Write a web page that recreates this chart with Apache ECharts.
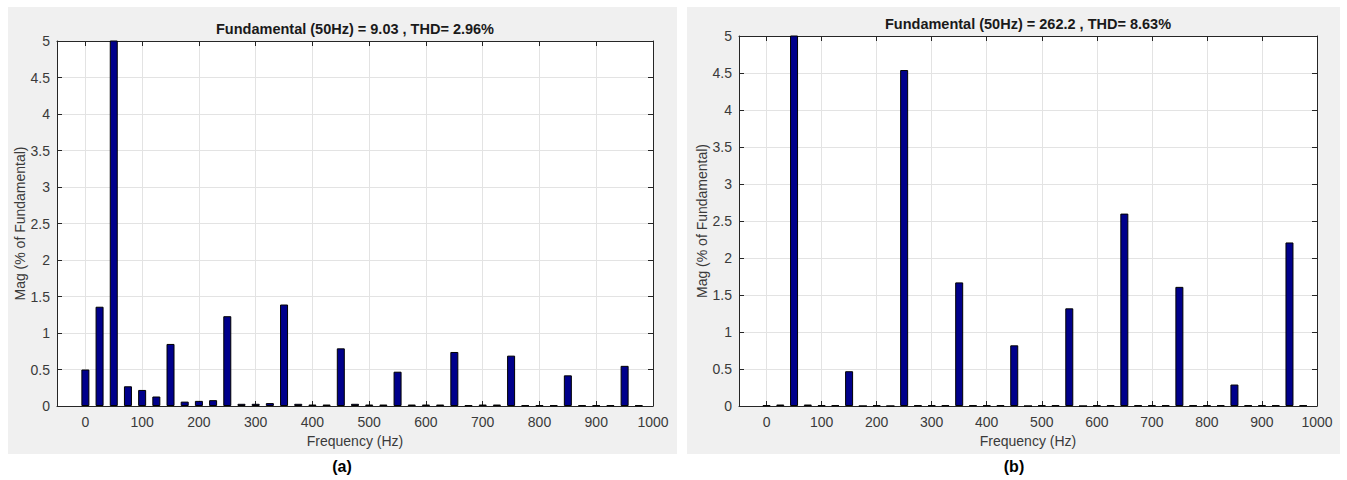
<!DOCTYPE html>
<html>
<head>
<meta charset="utf-8">
<script src="https://cdn.jsdelivr.net/npm/echarts@6/dist/echarts.min.js"></script>
<style>
  html, body { margin: 0; padding: 0; background: #ffffff; }
  #chart { width: 1347px; height: 480px; }
</style>
</head>
<body>
<div id="chart"></div>
<script>
// Harmonic spectrum bins (Hz)
const freqHz = [0, 25, 50, 75, 100, 125, 150, 175, 200, 225,
                250, 275, 300, 325, 350, 375, 400, 425, 450, 475,
                500, 525, 550, 575, 600, 625, 650, 675, 700, 725,
                750, 775, 800, 825, 850, 875, 900, 925, 950, 975];

// Magnitude (% of fundamental), panel (a)
const magA = [0.50, 1.36, 100, 0.27, 0.22, 0.13, 0.85, 0.06, 0.07, 0.08,
              1.23, 0.03, 0.03, 0.04, 1.39, 0.03, 0.02, 0.02, 0.79, 0.03,
              0.02, 0.02, 0.47, 0.02, 0.02, 0.02, 0.74, 0.01, 0.02, 0.02,
              0.69, 0.01, 0.01, 0.01, 0.42, 0.01, 0.01, 0.01, 0.55, 0.01];

// Magnitude (% of fundamental), panel (b)
const magB = [0.01, 0.02, 100, 0.02, 0.01, 0.01, 0.47, 0.00, 0.01, 0.00,
              4.54, 0.01, 0.01, 0.01, 1.67, 0.01, 0.01, 0.01, 0.82, 0.00,
              0.01, 0.01, 1.32, 0.00, 0.01, 0.01, 2.60, 0.01, 0.01, 0.01,
              1.61, 0.01, 0.01, 0.01, 0.29, 0.01, 0.01, 0.01, 2.21, 0.01];

const xTicks = [0, 100, 200, 300, 400, 500, 600, 700, 800, 900, 1000];

const titleA = 'Fundamental (50Hz) = 9.03 , THD= 2.96%';
const titleB = 'Fundamental (50Hz) = 262.2 , THD= 8.63%';
const captionA = '(a)';
const captionB = '(b)';
const xName = 'Frequency (Hz)';
const yName = 'Mag (% of Fundamental)';

const FONT = '"Liberation Sans", Arial, Helvetica, sans-serif';
const AXIS_COLOR = '#262626';
const LABEL_COLOR = '#3a3a3a';
const GRID_COLOR = '#e3e3e3';

const grids = [
  { left: 57, top: 41, width: 596, height: 365 },
  { left: 739, top: 36, width: 578, height: 370 }
];

function plainNumber(v) { return String(v); }

function bottomX(i) {
  return {
    type: 'value', gridIndex: i, position: 'bottom',
    min: -50, max: 1000,
    name: xName, nameLocation: 'middle', nameGap: 28,
    nameTextStyle: { fontFamily: FONT, fontSize: 14, color: LABEL_COLOR },
    axisLine: { show: true, onZero: false, lineStyle: { color: AXIS_COLOR, width: 1 } },
    axisTick: { show: true, inside: true, length: 5, customValues: xTicks, lineStyle: { color: AXIS_COLOR } },
    axisLabel: { show: true, customValues: xTicks, margin: 9, formatter: plainNumber, fontFamily: FONT, fontSize: 14, color: LABEL_COLOR },
    splitLine: { show: true, lineStyle: { color: GRID_COLOR, width: 1 } }
  };
}
function topX(i) {
  return {
    type: 'value', gridIndex: i, position: 'top',
    min: -50, max: 1000,
    axisLine: { show: true, onZero: false, lineStyle: { color: AXIS_COLOR, width: 1 } },
    axisTick: { show: true, inside: true, length: 5, customValues: xTicks, lineStyle: { color: AXIS_COLOR } },
    axisLabel: { show: false },
    splitLine: { show: false }
  };
}
function leftY(i) {
  return {
    type: 'value', gridIndex: i, position: 'left',
    min: 0, max: 5, interval: 0.5,
    name: yName, nameLocation: 'middle', nameGap: 29, nameRotate: 90,
    nameTextStyle: { fontFamily: FONT, fontSize: 14, color: LABEL_COLOR },
    axisLine: { show: true, onZero: false, lineStyle: { color: AXIS_COLOR, width: 1 } },
    axisTick: { show: true, inside: true, length: 5, lineStyle: { color: AXIS_COLOR } },
    axisLabel: { show: true, margin: 7, formatter: plainNumber, fontFamily: FONT, fontSize: 14, color: LABEL_COLOR },
    splitLine: { show: true, lineStyle: { color: GRID_COLOR, width: 1 } }
  };
}
function rightY(i) {
  return {
    type: 'value', gridIndex: i, position: 'right',
    min: 0, max: 5, interval: 0.5,
    axisLine: { show: true, onZero: false, lineStyle: { color: AXIS_COLOR, width: 1 } },
    axisTick: { show: true, inside: true, length: 5, lineStyle: { color: AXIS_COLOR } },
    axisLabel: { show: false },
    splitLine: { show: false }
  };
}

function barSeries(i, mags) {
  return {
    type: 'bar',
    xAxisIndex: i * 2, yAxisIndex: i * 2,
    data: freqHz.map((f, k) => [f, mags[k]]),
    barWidth: 8,
    clip: true,
    itemStyle: { color: '#00008b', borderColor: '#000000', borderWidth: 1 },
    emphasis: { disabled: true },
    silent: true
  };
}

const chart = echarts.init(document.getElementById('chart'), null, { renderer: 'svg' });

chart.setOption({
  animation: false,
  backgroundColor: '#ffffff',
  graphic: [
    { type: 'rect', z: -10, shape: { x: 8, y: 7, width: 669, height: 447 }, style: { fill: '#f0f0f0' } },
    { type: 'rect', z: -10, shape: { x: 687, y: 7, width: 653, height: 447 }, style: { fill: '#f0f0f0' } },
    { type: 'rect', z: -5, shape: { x: 57, y: 41, width: 596, height: 365 }, style: { fill: '#ffffff' } },
    { type: 'rect', z: -5, shape: { x: 739, y: 36, width: 578, height: 370 }, style: { fill: '#ffffff' } },
    { type: 'text', x: 355, y: 29, style: { text: titleA, align: 'center', verticalAlign: 'middle', font: 'bold 14.5px ' + FONT, fill: '#1a1a1a' } },
    { type: 'text', x: 1028, y: 24, style: { text: titleB, align: 'center', verticalAlign: 'middle', font: 'bold 14.5px ' + FONT, fill: '#1a1a1a' } },
    { type: 'text', x: 342, y: 466, style: { text: captionA, align: 'center', verticalAlign: 'middle', font: 'bold 16px ' + FONT, fill: '#000000' } },
    { type: 'text', x: 1014, y: 466, style: { text: captionB, align: 'center', verticalAlign: 'middle', font: 'bold 16px ' + FONT, fill: '#000000' } }
  ],
  grid: grids,
  xAxis: [bottomX(0), topX(0), bottomX(1), topX(1)],
  yAxis: [leftY(0), rightY(0), leftY(1), rightY(1)],
  series: [barSeries(0, magA), barSeries(1, magB)]
});
</script>
</body>
</html>
